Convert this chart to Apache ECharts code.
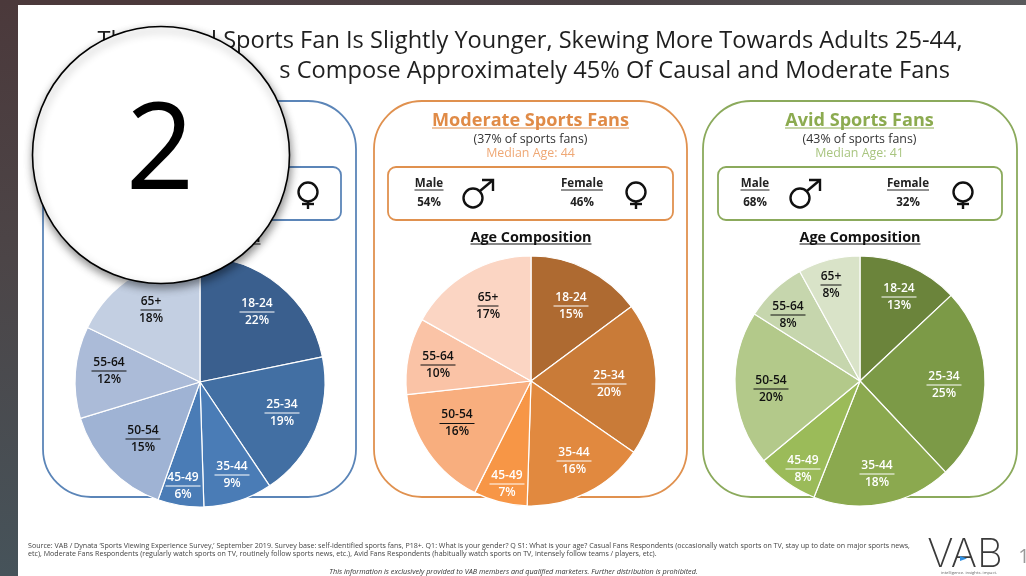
<!DOCTYPE html>
<html><head><meta charset="utf-8">
<style>html,body{margin:0;padding:0;background:#fff;overflow:hidden}#c{width:1026px;height:576px}</style>
<script src="https://cdn.jsdelivr.net/npm/echarts@6/dist/echarts.min.js"></script>
</head><body><div id="c"></div>
<script>
const ageGroups = ['18-24','25-34','35-44','45-49','50-54','55-64','65+'];
const casualShare = [22,19,9,6,15,12,18];
const moderateShare = [15,20,16,7,16,10,17];
const avidShare = [13,25,18,8,20,8,8];
const titleLine1 = 'The Casual Sports Fan Is Slightly Younger, Skewing More Towards Adults 25-44,';
const titleLine2 = 's Compose Approximately 45% Of Causal and Moderate Fans';
const source1 = "Source: VAB / Dynata ‘Sports Viewing Experience Survey,’ September 2019. Survey base: self-identified sports fans, P18+. Q1: What is your gender? Q S1: What is your age? Casual Fans Respondents (occasionally watch sports on TV, stay up to date on major sports news,";
const source2 = "etc), Moderate Fans Respondents (regularly watch sports on TV, routinely follow sports news, etc.), Avid Fans Respondents (habitually watch sports on TV, intensely follow teams / players, etc).";
const notice = "This information is exclusively provided to VAB members and qualified marketers. Further distribution is prohibited.";

const FONT = '"Open Sans","Noto Sans",sans-serif';
const panels = [
 {values:casualShare, x:43, w:313, cx:200, cy:382, border:'#5B85B8', boxX:58, boxW:283,
  colors:['#3A5F8E','#426FA3','#4A7CB6','#4A7CB6','#9FB3D4','#ABBBD8','#C3CFE2'], dark:[0,1,2,3],
  labels:[[257,312],[282,413],[232,475],[183,486],[143,439],[109,371],[151,310]], femaleSym:308},
 {values:moderateShare, x:374, w:313, cx:531, cy:381, border:'#E0914F', boxX:388, boxW:285,
  title:'Moderate Sports Fans', share:'(37% of sports fans)', median:'Median Age: 44', titleColor:'#E08B47', medianColor:'#EFA875',
  male:'54%', female:'46%', maleX:429, femaleX:582, maleSym:473, femaleSym:636,
  colors:['#AE6A31','#C97B38','#E1893F','#F79646','#F8AE7E','#FAC3A6','#FBD5C3'], dark:[0,1,2,3],
  labels:[[571,306],[609,384],[574,461],[507,484],[457,423.5],[438,365],[488,306]]},
 {values:avidShare, x:703, w:314, cx:860, cy:381, border:'#8BAA5C', boxX:718, boxW:284,
  title:'Avid Sports Fans', share:'(43% of sports fans)', median:'Median Age: 41', titleColor:'#8CAB50', medianColor:'#A9C580',
  male:'68%', female:'32%', maleX:755, femaleX:908, maleSym:800, femaleSym:963,
  colors:['#6B843B','#7C9A47','#8BA94F','#9BBB59','#B3C98A','#C6D6AD','#D9E3C8'], dark:[0,1,2,3],
  labels:[[899,297],[944,385],[877,474],[803,469],[771,389],[788,315],[831,285]]}
];

const g = [];
const text = (t,x,y,size,color,o={}) => g.push({type:'text',z:o.z||5,style:{text:t,x,y,fill:color,
  font:`${o.style||''} ${o.weight||'normal'} ${size}px ${o.font||FONT}`,textAlign:o.align||'center',textVerticalAlign:'middle'}});
const line = (x1,y1,x2,y2,color,w,z=5) => g.push({type:'line',z,shape:{x1,y1,x2,y2},style:{stroke:color,lineWidth:w}});
const underlined = (t,x,y,size,color,weight,uy,uw) => {text(t,x,y,size,color,{weight}); line(x-uw/2,uy,x+uw/2,uy,color,1);};

// backdrop
g.push({type:'rect',z:0,shape:{x:0,y:0,width:1026,height:576},style:{fill:{type:'linear',x:0,y:0,x2:0,y2:1,colorStops:[{offset:0,color:'#4B393B'},{offset:.45,color:'#4C4547'},{offset:1,color:'#46535A'}]}}});
g.push({type:'rect',z:0,shape:{x:200,y:0,width:826,height:5},style:{fill:{type:'linear',x:0,y:0,x2:1,y2:0,colorStops:[{offset:0,color:'#4D3F42'},{offset:.5,color:'#4A4144'},{offset:1,color:'#5A5A5C'}]}}});
g.push({type:'rect',z:0,shape:{x:18,y:5,width:1008,height:571},style:{fill:'#fff'}});

text(titleLine1,530,41.5,23.6,'#1f1f1f');
text(titleLine2,950,71,23.6,'#1f1f1f',{align:'right'});

const male = (x,y,c='#111') => {
  g.push({type:'circle',z:5,shape:{cx:x,cy:y,r:9.5},style:{fill:'none',stroke:c,lineWidth:2.4}});
  line(x+7,y-7,x+20,y-18,c,2.4);
  g.push({type:'polyline',z:5,shape:{points:[[x+9,y-18],[x+20,y-18],[x+20,y-7]]},style:{fill:'none',stroke:c,lineWidth:2.4}});
};
const female = (x,y,c='#111') => {
  g.push({type:'circle',z:5,shape:{cx:x,cy:y,r:9.5},style:{fill:'none',stroke:c,lineWidth:2.4}});
  line(x,y+10,x,y+17,c,2.4); line(x-6,y+12,x+6,y+12,c,2.4);
};

panels.forEach(p => {
  g.push({type:'rect',z:1,shape:{x:p.x,y:101,width:p.w,height:396,r:48},style:{fill:'#fff',stroke:p.border,lineWidth:1.8}});
  g.push({type:'rect',z:1,shape:{x:p.boxX,y:167,width:p.boxW,height:53,r:8},style:{fill:'#fff',stroke:p.border,lineWidth:1.8}});
  if (p.title) {
    const tw = p.title.length>16 ? 197 : 149;
    underlined(p.title,p.cx-0.5,120.5,18.1,p.titleColor,'bold',128,tw);
    text(p.share,p.cx-0.5,139,12.4,'#333');
    text(p.median,p.cx-0.5,153.5,12.4,p.medianColor);
    underlined('Male',p.maleX,184,11.6,'#222','bold',190,29);
    text(p.male,p.maleX,203,11.6,'#222',{weight:'bold'});
    underlined('Female',p.femaleX,184,11.6,'#222','bold',190,42);
    text(p.female,p.femaleX,203,11.6,'#222',{weight:'bold'});
    male(p.maleSym,198);
  }
  female(p.femaleSym,192);
  underlined('Age Composition',p.cx,237.5,14.4,'#111','bold',244,121);
});

text(source1,28,545.5,7.1,'#444',{align:'left'});
text(source2,28,554,7.1,'#444',{align:'left'});
text(notice,513.5,571.5,7.26,'#333',{style:'italic'});

// logo
text('VAB',965,555,40,'#3a3a3a',{font:'Inter,"Liberation Sans",sans-serif',weight:200});
g.push({type:'polygon',z:6,shape:{points:[[960,556],[967,558.5],[960,561]]},style:{fill:'#2F8FE0'}});
text('intelligence. insights. impact.',969,573,4.2,'#666');
text('1',1024,557,20,'#999');

// round badge
g.push({type:'circle',z:50,shape:{cx:161,cy:155,r:128.5},style:{fill:'#fff',stroke:'#000',lineWidth:1.6,shadowBlur:8,shadowColor:'rgba(0,0,0,.45)',shadowOffsetX:1,shadowOffsetY:4}});
text('2',160,155,120,'#000',{z:51});

const series = panels.map(p => ({
  type:'pie', z:3, center:[p.cx,p.cy], radius:[0,125], startAngle:90, clockwise:true, animation:false, silent:true,
  itemStyle:{borderColor:'#fff',borderWidth:1.2},
  data:p.values.map((v,i)=>({value:v,name:ageGroups[i],itemStyle:{color:p.colors[i]},
    label:{formatter:p.dark.includes(i)?`{w|${ageGroups[i]}}\n{uw|}\n{w|${v}%}`:`{k|${ageGroups[i]}}\n{uk|}\n{k|${v}%}`,
           rich:{w:{color:'#fff',fontFamily:'Open Sans',fontWeight:600,fontSize:12,lineHeight:15,align:'center'},
                 k:{color:'#111',fontFamily:'Open Sans',fontWeight:600,fontSize:12,lineHeight:15,align:'center'},
                 uw:{backgroundColor:'#fff',width:ageGroups[i].length*7,height:1,lineHeight:2,align:'center'},
                 uk:{backgroundColor:'#111',width:ageGroups[i].length*7,height:1,lineHeight:2,align:'center'}}}})),
  label:{show:true,position:'inside'},
  labelLine:{show:false},
  labelLayout:params=>({x:p.labels[params.dataIndex][0],y:p.labels[params.dataIndex][1],align:'center',verticalAlign:'middle'})
}));

const chart = echarts.init(document.getElementById('c'),null,{renderer:'canvas'});
chart.setOption({animation:false,series,graphic:{elements:g}});
</script></body></html>
